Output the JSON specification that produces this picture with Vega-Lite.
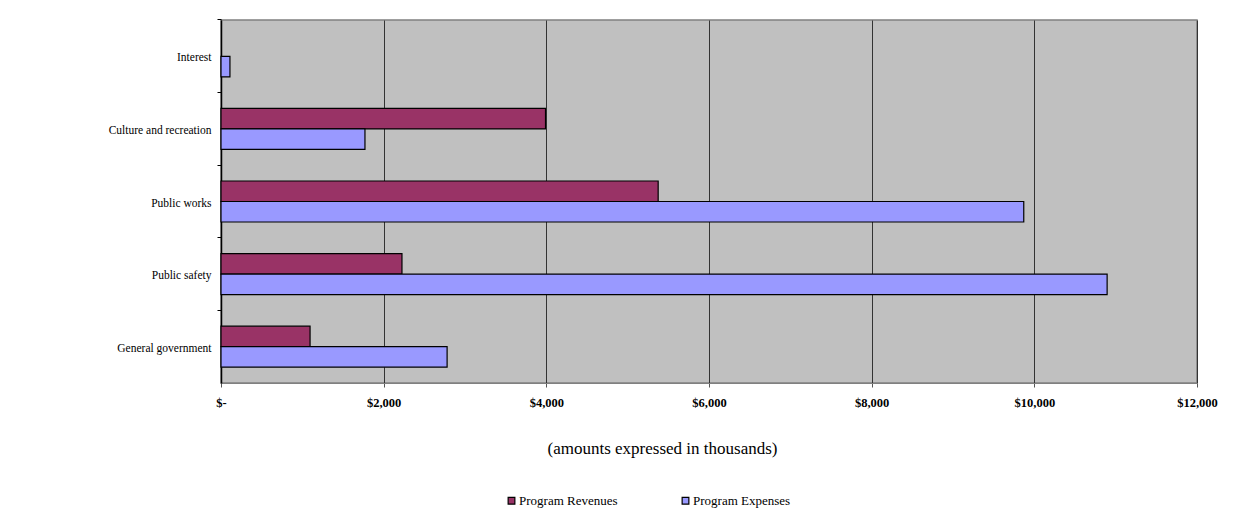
{
  "$schema": "https://vega.github.io/schema/vega-lite/v6.json",
  "width": 976,
  "height": 363,
  "autosize": {"type": "none"},
  "padding": {"left": 221, "top": 20, "right": 38, "bottom": 148},
  "background": "white",
  "config": {
    "font": "Times New Roman, Liberation Serif, serif",
    "view": {"fill": "#C0C0C0", "stroke": "#808080", "strokeWidth": 1.5}
  },
  "data": {
    "values": [
      {"category": "Interest", "series": "Program Expenses", "value": 110},
      {"category": "Culture and recreation", "series": "Program Revenues", "value": 3990},
      {"category": "Culture and recreation", "series": "Program Expenses", "value": 1770},
      {"category": "Public works", "series": "Program Revenues", "value": 5375},
      {"category": "Public works", "series": "Program Expenses", "value": 9870},
      {"category": "Public safety", "series": "Program Revenues", "value": 2225},
      {"category": "Public safety", "series": "Program Expenses", "value": 10895},
      {"category": "General government", "series": "Program Revenues", "value": 1095},
      {"category": "General government", "series": "Program Expenses", "value": 2780}
    ]
  },
  "mark": {"type": "bar", "stroke": "black", "strokeWidth": 1.2},
  "encoding": {
    "y": {
      "field": "category",
      "type": "nominal",
      "sort": ["Interest", "Culture and recreation", "Public works", "Public safety", "General government"],
      "scale": {"paddingInner": 0.435, "paddingOuter": 0.2175},
      "axis": {
        "title": null,
        "domainColor": "black",
        "domainWidth": 1.5,
        "tickColor": "black",
        "tickSize": 4,
        "bandPosition": -0.385,
        "labelFont": "Times New Roman, Liberation Serif, serif",
        "labelFontSize": 11.5,
        "labelColor": "black",
        "labelPadding": 6,
        "labelOffset": 2,
        "grid": false
      }
    },
    "yOffset": {
      "field": "series",
      "type": "nominal",
      "sort": ["Program Revenues", "Program Expenses"],
      "scale": {"domain": ["Program Revenues", "Program Expenses"], "paddingInner": 0, "paddingOuter": 0}
    },
    "x": {
      "field": "value",
      "type": "quantitative",
      "scale": {"domain": [0, 12000], "nice": false},
      "axis": {
        "values": [0, 2000, 4000, 6000, 8000, 10000, 12000],
        "labelExpr": "datum.value == 0 ? '$-' : '$' + format(datum.value, ',')",
        "labelFlush": false,
        "grid": true,
        "gridColor": "#333333",
        "gridWidth": 1,
        "domainColor": "#808080",
        "tickColor": "#555555",
        "tickSize": 4,
        "labelFont": "Times New Roman, Liberation Serif, serif",
        "labelFontSize": 12.5,
        "labelFontWeight": "bold",
        "labelColor": "black",
        "labelPadding": 9,
        "title": "(amounts expressed in thousands)",
        "titleFont": "Times New Roman, Liberation Serif, serif",
        "titleFontSize": 17,
        "titleFontWeight": "normal",
        "titleColor": "black",
        "titlePadding": 32,
        "titleX": 441
      }
    },
    "color": {
      "field": "series",
      "type": "nominal",
      "scale": {"domain": ["Program Revenues", "Program Expenses"], "range": ["#993366", "#9999FF"]},
      "legend": {
        "title": null,
        "orient": "none",
        "legendX": 284,
        "legendY": 474,
        "direction": "horizontal",
        "symbolType": "square",
        "symbolSize": 45,
        "symbolStrokeColor": "black",
        "symbolStrokeWidth": 1.2,
        "symbolOpacity": 1,
        "labelFont": "Times New Roman, Liberation Serif, serif",
        "labelFontSize": 13,
        "labelColor": "black",
        "labelOffset": 1,
        "columnPadding": 61
      }
    }
  }
}
